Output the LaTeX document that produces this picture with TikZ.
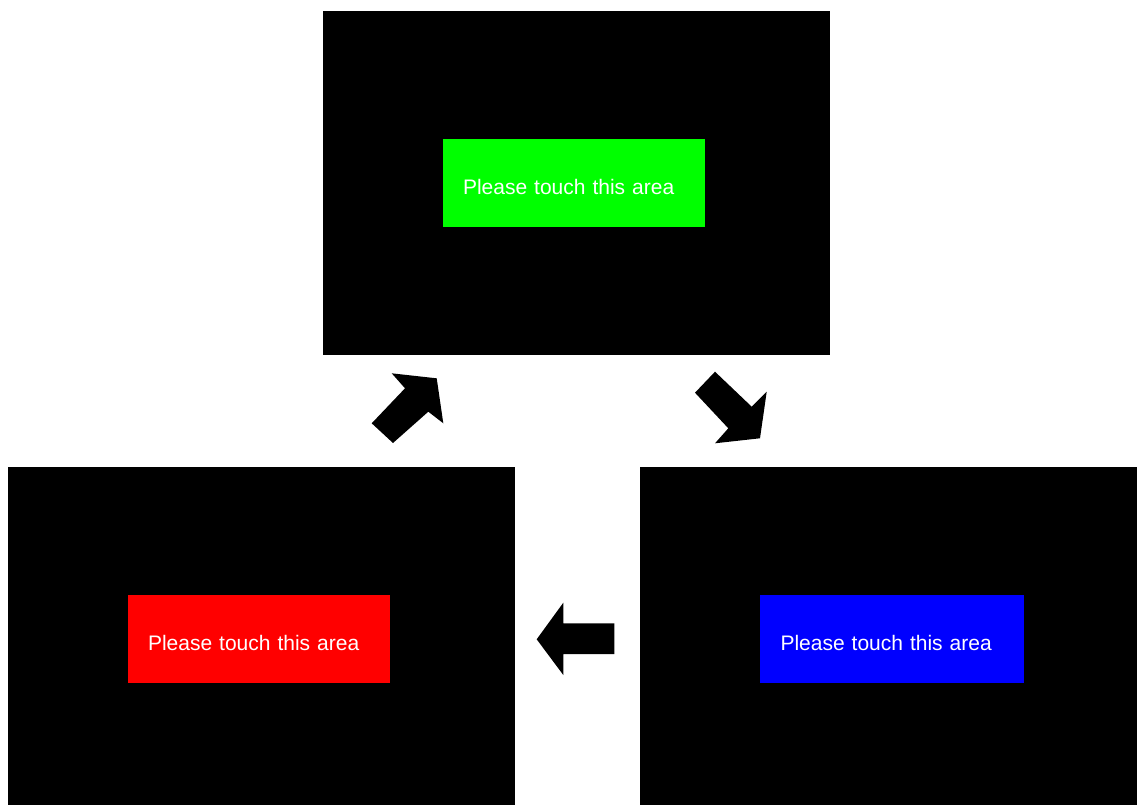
\documentclass[tikz,border=0pt]{standalone}
\usepackage{fontspec}
\setmainfont{Liberation Sans}
\begin{document}
\begin{tikzpicture}[x=1pt,y=-1pt,
  screen/.style={fill=black,draw=none,inner sep=0pt,outer sep=0pt},
  touch/.style={draw=none,inner xsep=20pt,inner ysep=0pt,outer sep=0pt,text=white,font=\fontsize{21}{25}\selectfont,minimum height=88pt,minimum width=262pt,text width=222pt,align=left,text height=22pt,text depth=0pt},
  bigarrow/.style={fill=black,draw=none}]
\useasboundingbox (0,0) rectangle (1137,805);
% screens
\node[screen,minimum width=507pt,minimum height=344pt] (top) at (576.5,183) {};
\node[screen,minimum width=507pt,minimum height=338pt] (left) at (261.5,636) {};
\node[screen,minimum width=497pt,minimum height=338pt] (right) at (888.5,636) {};
% touch areas
\node[touch,fill={rgb,255:red,0;green,255;blue,0}] (g) at (574,183) {Please touch this area};
\node[touch,fill={rgb,255:red,255;green,0;blue,0}] (r) at (259,639) {Please touch this area};
\node[touch,fill={rgb,255:red,0;green,0;blue,255},minimum width=263pt,inner xsep=21pt] (b) at (891.5,639) {Please touch this area};
% arrows
\fill[bigarrow] (371.7,423.3) -- (405,388.3) -- (391.7,373.3) -- (436.7,378.3) -- (443.3,423.3) -- (428.3,411.7) -- (393,443) -- cycle;
\fill[bigarrow] (715,371.7) -- (751.7,406.7) -- (766.7,391.7) -- (760,438.3) -- (715,443.3) -- (728.3,428.3) -- (695,392.7) -- cycle;
\fill[bigarrow] (536.7,639.3) -- (563.3,602.7) -- (563.3,623.3) -- (614.3,623.3) -- (614.3,654) -- (563.3,654) -- (563.3,675) -- cycle;
\end{tikzpicture}
\end{document}
